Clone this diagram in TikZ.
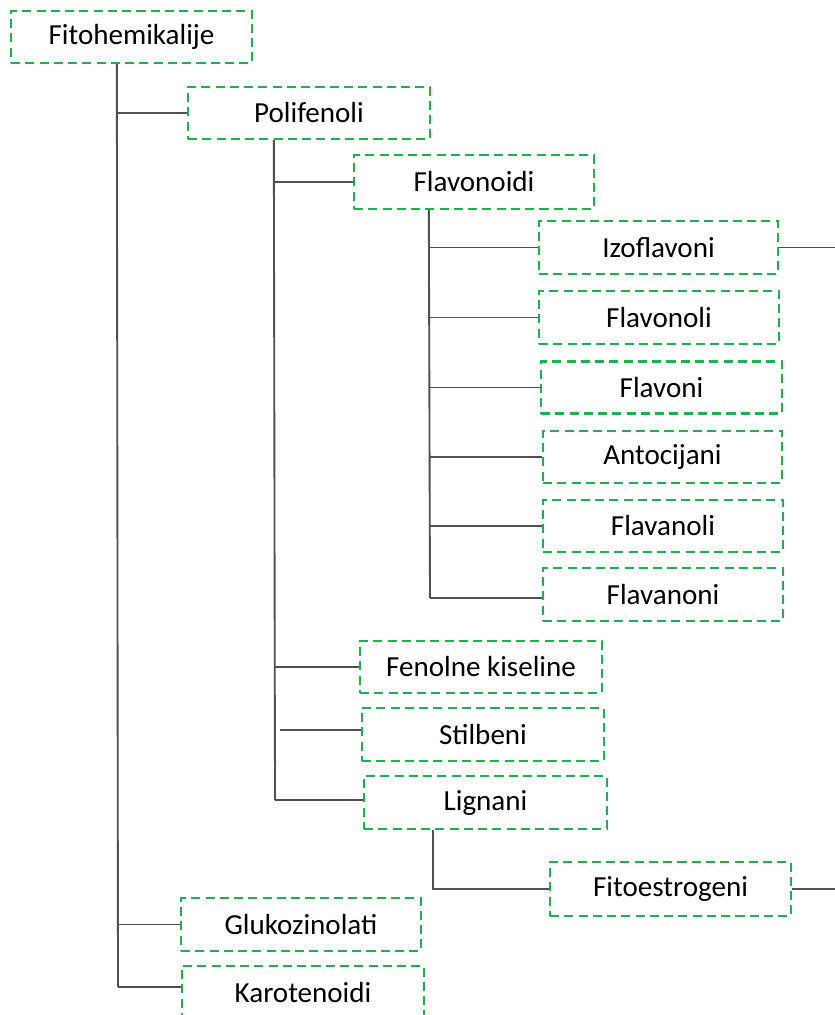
\documentclass[tikz,border=0pt]{standalone}
\usepackage{fontspec}
\setmainfont{Carlito}
\definecolor{boxgreen}{RGB}{30,178,76}
\definecolor{lnk}{RGB}{80,80,80}
\begin{document}
\begin{tikzpicture}[x=0.75pt,y=-0.75pt,
  box/.style 2 args={draw=boxgreen, dash pattern=on 6.8pt off 3.9pt, line width=1.75pt,
    rectangle, inner sep=0pt, minimum width=#1*0.75pt, minimum height=#2*0.75pt,
    font=\fontsize{21.8}{25}\selectfont, text=black},
  link/.style={draw=lnk, line width=1.4pt}]
\clip (0,0) rectangle (835,1015);
\useasboundingbox (0,0) rectangle (835,1015);
\node[box={241}{52}] (fito)  at (131.5,37)   {Fitohemikalije};
\node[box={242}{52}] (pol)   at (309,113)    {Polifenoli};
\node[box={240}{54}] (flav)  at (474,182)    {Flavonoidi};
\node[box={239}{53}] (izo)   at (658.5,247.5){Izoflavoni};
\node[box={240}{53}] (flvl)  at (659,317.5)  {Flavonoli};
\node[box={241}{52}] (flvn)  at (661.5,387.5){Flavoni};
\node[box={239}{52}] (anto)  at (662.5,457)  {Antocijani};
\node[box={240}{52}] (flnl)  at (663,526)    {Flavanoli};
\node[box={240}{53}] (flnn)  at (663,594.5)  {Flavanoni};
\node[box={242}{52}] (fen)   at (481,667)    {Fenolne kiseline};
\node[box={242}{53}] (stil)  at (483,734.5)  {Stilbeni};
\node[box={243}{53}] (lig)   at (485.5,802.5){Lignani};
\node[box={241}{54}] (fitoe) at (670.5,889)  {Fitoestrogeni};
\node[box={240}{53}] (gluk)  at (301,924.5)  {Glukozinolati};
\node[box={242}{54}] (karo)  at (303,993)    {Karotenoidi};
% trunk of Fitohemikalije
\coordinate (t1) at ([xshift=107*0.75pt]fito.south west);
\coordinate (t1e) at (118,987);
\draw[link] (t1) -- (t1e);
\draw[link] (t1 |- pol.west) -- (pol.west);
\draw[link] (t1 |- gluk.west) -- (gluk.west);
\draw[link] (t1e) -- (t1e -| karo.west);
% trunk of Polifenoli
\coordinate (t2) at ([xshift=87*0.75pt]pol.south west);
\coordinate (t2e) at (275,800);
\draw[link] (t2) -- (t2e);
\draw[link] (t2 |- flav.west) -- (flav.west);
\draw[link] (t2 |- fen.west) -- (fen.west);
\draw[link] (280,730) -- (280,730 -| stil.west);
\draw[link] (t2e) -- (t2e -| lig.west);
% trunk of Flavonoidi
\coordinate (t3) at ([xshift=76*0.75pt]flav.south west);
\coordinate (t3e) at (430,598);
\draw[link] (t3) -- (t3e);
\draw[link] (t3 |- izo.west) -- (izo.west);
\draw[link] (t3 |- flvl.west) -- (flvl.west);
\draw[link] (t3 |- flvn.west) -- (flvn.west);
\draw[link] (t3 |- anto.west) -- (anto.west);
\draw[link] (t3 |- flnl.west) -- (flnl.west);
\draw[link] (t3e) -- (t3e -| flnn.west);
% Lignani -> Fitoestrogeni
\coordinate (t4) at ([xshift=70*0.75pt]lig.south west);
\draw[link] (t4) |- (fitoe.west);
% right stubs
\coordinate (r1) at (835,247.5);
\coordinate (r2) at (835,889);
\draw[link] (izo.east) -- (r1);
\draw[link] (fitoe.east) -- (r2);
\end{tikzpicture}
\end{document}
